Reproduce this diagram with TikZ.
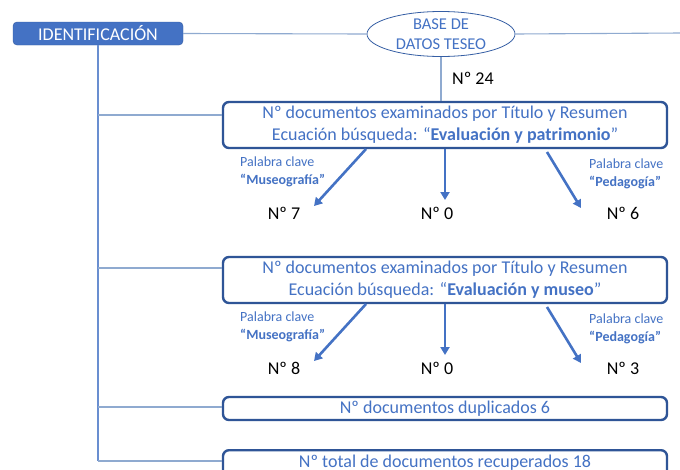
\documentclass[tikz,border=0pt]{standalone}
\usepackage{fontspec}
\setmainfont{Carlito}
\usetikzlibrary{shapes.geometric,arrows.meta}
\definecolor{mblue}{HTML}{4472C4}
\definecolor{dblue}{HTML}{2F5597}
\definecolor{lline}{HTML}{8FAAD0}
\begin{document}
\begin{tikzpicture}[x=1pt,y=-1pt,
  conn/.style={draw=lline,line width=1.1pt},
  infobox/.style={draw=dblue,line width=2.4pt,rounded corners=6pt,minimum width=444pt,inner sep=0pt,text=mblue,font=\fontsize{18}{22}\selectfont,align=center},
  arr/.style={draw=mblue,line width=2.6pt,-{Triangle[length=8pt,width=9pt]}},
  kw/.style={text=mblue,font=\fontsize{14}{18}\selectfont,align=left,inner sep=0pt},
  num/.style={font=\fontsize{18}{20}\selectfont,inner sep=0pt}]
\clip (0,0) rectangle (680,469);
\fill[white] (0,0) rectangle (680,469);
% header
\node[draw=dblue!80!mblue,fill=mblue,rounded corners=4pt,minimum width=170pt,minimum height=23pt,inner sep=0pt,text=white,font=\fontsize{18}{20}\selectfont] (id) at (98,33.5) {IDENTIFICACIÓN};
\node[ellipse,draw=dblue!70!mblue,line width=0.8pt,minimum width=148pt,minimum height=45pt,inner sep=0pt,text=mblue,align=center,font=\fontsize{16.5}{20}\selectfont] (db) at (441,34) {BASE DE\\DATOS TESEO};
\coordinate (rend) at (681,33);
\draw[conn] (id.east) -- (db.west);
\draw[conn] (db.east) -- (rend);
% boxes
\node[infobox,minimum height=46pt] (b1) at (445,125) {Nº documentos examinados por Título y Resumen\\Ecuación búsqueda: “\textbf{Evaluación y patrimonio}”};
\node[infobox,minimum height=46pt] (b2) at (445,280) {Nº documentos examinados por Título y Resumen\\Ecuación búsqueda: “\textbf{Evaluación y museo}”};
\node[infobox,minimum height=23pt] (b3) at (445,408.5) {Nº documentos duplicados 6};
\node[infobox,minimum height=40pt,anchor=north] (b4) at (445,449) {\raisebox{17pt}{Nº total de documentos recuperados 18}};
\draw[conn] (db.south) -- (b1.north -| db.south);
\node[num,anchor=west] (n24) at (452,78) {Nº 24};
% left spine
\coordinate (sp) at (98,461);
\draw[conn,draw=mblue!80] (id.south) -- (sp);
\coordinate (s1) at (98,115);
\coordinate (s2) at (98,268);
\coordinate (s3) at (98,407);
\draw[conn] (s1) -- (s1 -| b1.west);
\draw[conn] (s2) -- (s2 -| b2.west);
\draw[conn] (s3) -- (s3 -| b3.west);
\draw[conn] (sp) -- (sp -| b4.west);
% arrows and labels
\foreach \b/\y/\nl/\nm/\nr in {1/0/7/0/6, 2/155/8/0/3} {
  \coordinate (L\b s) at (366,149+\y);
  \coordinate (L\b e) at (314,206+\y);
  \coordinate (M\b s) at (445,149+\y);
  \coordinate (M\b e) at (445,200+\y);
  \coordinate (R\b s) at (547,152+\y);
  \coordinate (R\b e) at (581,208+\y);
  \draw[arr] (L\b s) -- (L\b e);
  \draw[arr] (M\b s) -- (M\b e);
  \draw[arr] (R\b s) -- (R\b e);
  \node[kw,anchor=north west] (kl\b) at (240,157+\y) {Palabra clave\\\textbf{“Museografía”}};
  \node[kw,anchor=north west] (kr\b) at (589,159+\y) {Palabra clave\\\textbf{“Pedagogía”}};
  \node[num] (nl\b) at (284,213+\y) {Nº \nl};
  \node[num] (nm\b) at (437,213+\y) {Nº \nm};
  \node[num] (nr\b) at (623,213+\y) {Nº \nr};
}
\end{tikzpicture}
\end{document}
